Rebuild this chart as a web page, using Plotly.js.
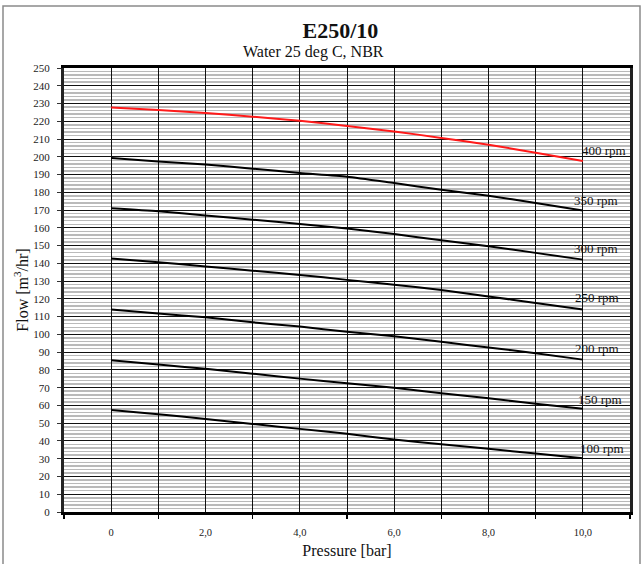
<!DOCTYPE html>
<html>
<head>
<meta charset="utf-8">
<script src="https://cdn.plot.ly/plotly-3.0.1.min.js"></script>
<style>html,body{margin:0;padding:0;background:#fff;}#chart{width:641px;height:564px;}</style>
</head>
<body>
<div id="chart"></div>
<script>
// Data
const pressure = [0, 1, 2, 3, 4, 5, 6, 7, 8, 9, 10];
const speeds = [400, 350, 300, 250, 200, 150, 100];
const flow400 = [227.8, 226.3, 224.6, 222.6, 220.3, 217.3, 214.3, 210.6, 206.8, 202.3, 197.6];
const flow350 = [199.3, 197.4, 195.6, 193.3, 190.9, 188.8, 185.2, 181.5, 178.1, 174.0, 169.7];
const flow300 = [171.0, 169.3, 167.0, 164.6, 162.2, 159.6, 156.5, 153.0, 149.6, 145.9, 142.1];
const flow250 = [142.7, 140.6, 138.3, 135.9, 133.5, 130.7, 128.0, 125.0, 121.4, 117.7, 114.0];
const flow200 = [114.0, 111.7, 109.6, 106.8, 104.4, 101.5, 98.9, 95.8, 92.6, 89.4, 85.8];
const flow150 = [85.4, 83.0, 80.6, 77.9, 75.1, 72.5, 69.9, 66.9, 64.0, 60.9, 58.1];
const flow100 = [57.5, 55.0, 52.4, 49.6, 46.8, 44.0, 40.8, 38.2, 35.6, 32.9, 30.3];
const xTickVals = [0, 2, 4, 6, 8, 10];
const xTickText = ['0', '2,0', '4,0', '6,0', '8,0', '10,0'];
const xMinorVals = [-1, 1, 3, 5, 7, 9, 11];
const chartTitle = 'E250/10';
const chartSubtitle = 'Water 25 deg C, NBR';
const xTitle = 'Pressure [bar]';
const yTitle = 'Flow [m<sup>3</sup>/hr]';

const allFlows = [flow400, flow350, flow300, flow250, flow200, flow150, flow100];
const colors = ['#ff1a1a', '#000', '#000', '#000', '#000', '#000', '#000'];
const serif = 'Liberation Serif';

const traces = allFlows.map((f, i) => ({
  x: pressure, y: f, type: 'scatter', mode: 'lines',
  line: {color: colors[i], width: 2, shape: 'spline', smoothing: 0.6},
  name: speeds[i] + ' rpm', showlegend: false, hoverinfo: 'skip'
}));

const labelOffsets = [6, 5.5, 6.5, 7, 6.5, 5.5, 5.5];
const labelX = [10.45, 10.28, 10.28, 10.3, 10.3, 10.37, 10.4];
const annotations = allFlows.map((f, i) => ({
  x: labelX[i], y: f[f.length - 1] + labelOffsets[i], xref: 'x', yref: 'y',
  text: speeds[i] + ' rpm', showarrow: false,
  font: {family: serif, size: 13, color: '#111'}, xanchor: 'center', yanchor: 'middle'
}));
annotations.push({
  xref: 'paper', yref: 'paper', x: 0.441, y: 1 + (68 - 52) / 444.5,
  text: chartSubtitle, showarrow: false, xanchor: 'center', yanchor: 'middle',
  font: {family: serif, size: 16, color: '#111'}
});

const layout = {
  width: 641, height: 564,
  margin: {l: 64, r: 11, t: 68, b: 52, pad: 0},
  paper_bgcolor: '#fff', plot_bgcolor: '#fff',
  font: {family: serif, color: '#111'},
  title: {text: '<b>' + chartTitle + '</b>', x: 313 / 641, xanchor: 'center', xref: 'paper',
          y: 1 - 30 / 564, yanchor: 'middle', yref: 'container',
          font: {family: serif, size: 22, color: '#111'}},
  xaxis: {
    range: [-1, 11], tickmode: 'array', tickvals: xTickVals, ticktext: xTickText,
    ticks: '', showgrid: true, gridcolor: '#111', gridwidth: 1, zeroline: false,
    showline: true, linecolor: '#000', linewidth: 3, mirror: true,
    tickfont: {family: serif, size: 10.5, color: '#222'}, ticklabelstandoff: 8,
    minor: {tickmode: 'array', tickvals: xMinorVals, ticks: 'outside', ticklen: 4,
            tickcolor: '#000', tickwidth: 1.5, showgrid: true, gridcolor: '#111', gridwidth: 1},
    title: {text: xTitle, font: {family: serif, size: 16, color: '#111'}, standoff: 9},
    automargin: false, fixedrange: true
  },
  yaxis: {
    range: [0, 250], tickmode: 'linear', tick0: 0, dtick: 10,
    ticks: 'outside', ticklen: 4, tickcolor: '#333', tickwidth: 1,
    showgrid: true, gridcolor: '#111', gridwidth: 1, zeroline: false,
    showline: true, linecolor: '#222', linewidth: 3, mirror: true,
    tickfont: {family: serif, size: 11, color: '#222'}, ticklabelstandoff: 5,
    minor: {tick0: 0, dtick: 2, showgrid: true, gridcolor: 'rgba(0,0,0,0.27)', gridwidth: 1.5, ticks: ''},
    title: {text: yTitle, font: {family: serif, size: 16, color: '#111'}, standoff: 1},
    automargin: false, fixedrange: true
  },
  shapes: [{
    type: 'rect', xref: 'paper', yref: 'paper',
    x0: (3 - 64) / 566, x1: (640 - 64) / 566,
    y0: -(575 - 512.5) / 444.5, y1: 1 + (68 - 6) / 444.5,
    line: {color: '#8a8a8a', width: 1.5}, layer: 'below'
  }],
  annotations: annotations,
  showlegend: false
};

Plotly.newPlot('chart', traces, layout, {displayModeBar: false, staticPlot: true});
</script>
</body>
</html>
